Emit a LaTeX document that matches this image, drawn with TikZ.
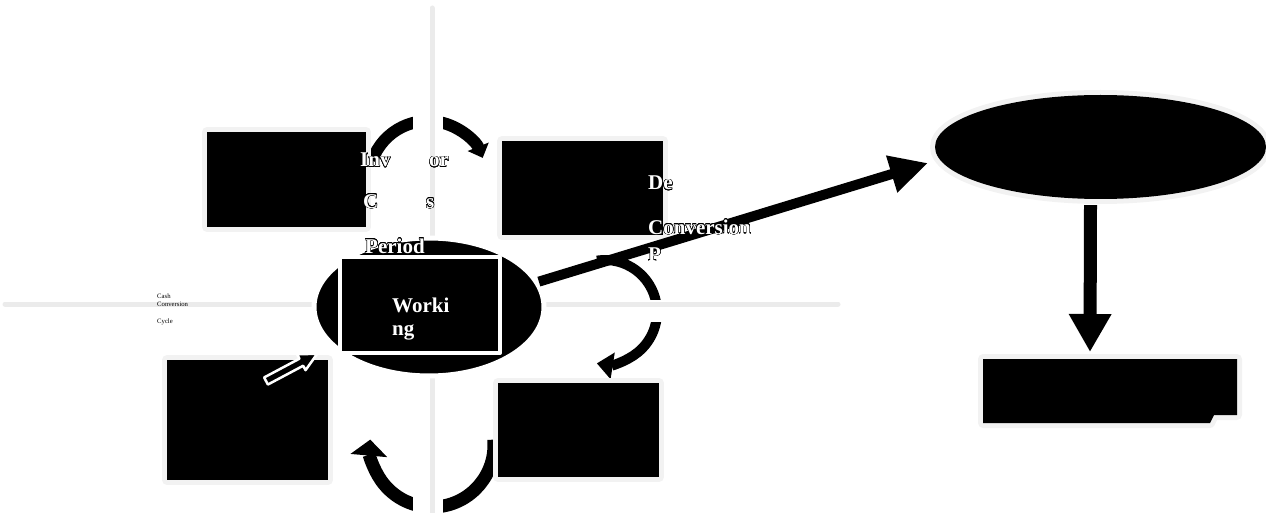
\documentclass[tikz,border=0pt]{standalone}
\usepackage{fontspec}
\setmainfont{Liberation Serif}
\usepackage{contour}
\contourlength{0.45pt}
\usetikzlibrary{arrows.meta,shapes.geometric}
\newcommand{\wl}[1]{\contour{black}{#1}}

\begin{document}
\begin{tikzpicture}[x=1pt,y=1pt,>=Latex,line cap=round,line join=round,
  blk/.style={fill=black,inner sep=0pt,preaction={draw=black!5,line width=10pt}},
  lbl/.style={anchor=base west,inner sep=0pt,text=white,font=\fontsize{21}{25}\selectfont\bfseries},
  sml/.style={anchor=base west,inner sep=0pt,font=\fontsize{6.7}{8}\selectfont},
  curv/.style={line width=12pt,line cap=butt}]
  \useasboundingbox (0,0) rectangle (1266,-513);
  % cycle arrows
  \draw[curv,-{Triangle[length=12pt,width=22pt]}]
    ([shift={(161:59)}]428,-180) arc[start angle=161,end angle=22,radius=59];
  \draw[curv,line width=10pt,-{Triangle[length=16pt,width=26pt]}]
    ([shift={(99:52)}]605,-312) arc[start angle=99,end angle=-99,radius=52];
  \draw[curv,line width=13pt,-{Triangle[length=16pt,width=36pt]}]
    ([shift={(5:62)}]432,-445) arc[start angle=5,end angle=-185,radius=62];
  % axes
  \draw[white,line width=30pt,line cap=butt] (428,-8) -- (428,-513);
  \draw[white,line width=22pt,line cap=butt] (5,-311) -- (838,-311);
  \draw[black!8,line width=5pt] (432,-8) -- (432,-513);
  \draw[black!8,line width=5pt] (5,-304) -- (838,-304);
  % boxes
  \node[blk,minimum width=159pt,minimum height=95pt] (icp) at (286.5,-179.5) {};
  \node[blk,minimum width=161pt,minimum height=94pt] (dcp) at (582.5,-188) {};
  \node[blk,minimum width=161pt,minimum height=120pt] (pdp) at (247.5,-420) {};
  \node[blk,minimum width=161pt,minimum height=94pt] (rcp) at (578.5,-430) {};
  \fill[black,preaction={draw=black!5,line width=10pt}]
    (983,-359) -- (1237,-359) -- (1237,-415) -- (1214,-415) -- (1210,-423) -- (983,-423) -- cycle;
  \coordinate (res) at (1090,-352);
  \begin{scope}[shift={(266,-381)},rotate=28]
    \filldraw[fill=black,draw=white,line width=2.5pt]
      (0,-4) -- (40,-4) -- (40,-9) -- (58,0) -- (40,9) -- (40,4) -- (0,4) -- cycle;
  \end{scope}
  \node[ellipse,fill=black,draw=white,line width=5pt,inner sep=0pt,
    minimum width=230pt,minimum height=138pt] (wc) at (429,-307) {};
  \node[fill=black,draw=white,line width=4pt,inner sep=0pt,
    minimum width=160pt,minimum height=96pt] (wrk) at (420,-305) {};
  \node[blk,ellipse,minimum width=331pt,minimum height=104pt] (dso) at (1100.5,-147) {};
  % links
  \coordinate (tipA) at (928,-163);
  \draw[line width=10pt,line cap=butt,-{Triangle[length=38pt,width=36pt]}] (wc.13) -- (tipA);
  \draw[line width=13pt,line cap=butt,-{Triangle[length=38pt,width=40pt]}]
    ([xshift=-10pt,yshift=-6pt]dso.south) -- (res);
  % labels
  \node[lbl] (inv1) at (360,-167) {\wl{Inv}};
  \node[lbl] (inv2) at (429,-167) {\wl{or}};
  \node[lbl] (cnv1) at (363,-208) {\wl{C}};
  \node[lbl] (cnv2) at (426,-208) {\wl{s}};
  \node[lbl] (per1) at (365,-253) {\wl{Period}};
  \node[lbl] (deb) at (648,-190) {\wl{De}};
  \node[lbl] (cnv3) at (648,-234) {\wl{Conversion}};
  \node[lbl] (per2) at (648,-261) {\wl{P}};
  \node[lbl] (wk1) at (392,-312) {Worki};
  \node[lbl] (wk2) at (392,-335) {ng};
  \node[sml] (ccc1) at (157,-298) {Cash};
  \node[sml] (ccc2) at (157,-306) {Conversion};
  \node[sml] (ccc3) at (157,-323) {Cycle};
\end{tikzpicture}
\end{document}
